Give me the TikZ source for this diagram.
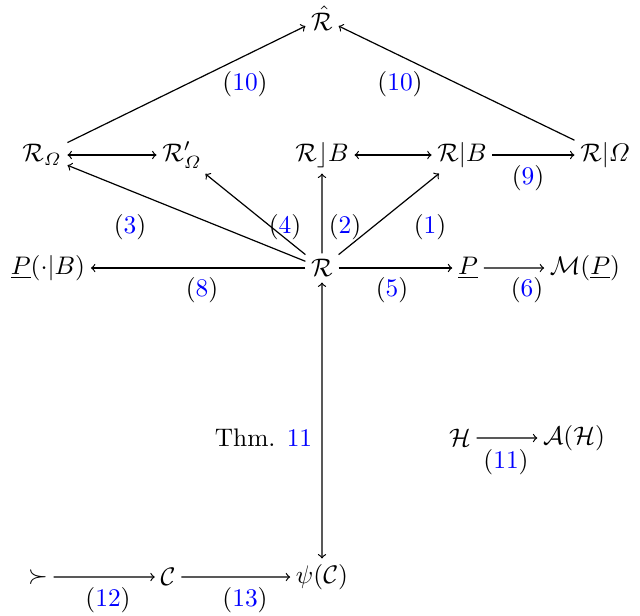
\documentclass[tikz,border=0pt]{standalone}
\usepackage{amsmath,amssymb}
\begin{document}
\begin{tikzpicture}[x=0.5pt,y=-0.5pt,line width=0.6pt,
  ar/.style={->},
  every node/.style={inner sep=2pt,scale=1.27}]
\useasboundingbox (0,0) rectangle (640,615);
\node (Rh) at (322,18) {$\hat{\mathcal R}$};
\node (RO) at (42,155) {$\mathcal R_\varOmega$};
\node (RO2) at (182,155) {$\mathcal R'_\varOmega$};
\node (RfB) at (322,155) {$\mathcal R\rfloor B$};
\node (RB) at (462,155) {$\mathcal R|B$};
\node (RvO) at (605,155) {$\mathcal R|\varOmega$};
\node (PB) at (48,268) {$\underline{P}(\cdot|B)$};
\node (R) at (322,268) {$\mathcal R$};
\node (P) at (468,268) {$\underline{P}$};
\node (MP) at (585,268) {$\mathcal M(\underline{P})$};
\node (H) at (460,438) {$\mathcal H$};
\node (AH) at (574,438) {$\mathcal A(\mathcal H)$};
\node (succ) at (38,577) {$\succ$};
\node (C) at (168,577) {$\mathcal C$};
\node (psi) at (322,577) {$\psi(\mathcal C)$};
\draw[ar] (RO) -- (Rh);
\draw[ar] (RvO) -- (Rh);
\draw[<->] (RO) -- (RO2);
\draw[<->] (RfB) -- (RB);
\draw[ar] (RB) -- (RvO);
\draw[ar] (R) -- (RO);
\draw[ar] (R) -- (RO2);
\draw[ar] (R) -- (RfB);
\draw[ar] (R) -- (RB);
\draw[ar] (R) -- (PB);
\draw[ar] (R) -- (P);
\draw[ar] (P) -- (MP);
\draw[<->] (R) -- (psi);
\draw[ar] (H) -- (AH);
\draw[ar] (succ) -- (C);
\draw[ar] (C) -- (psi);
\node at (245,84) {(\textcolor{blue}{10})};
\node at (400,84) {(\textcolor{blue}{10})};
\node at (130,227) {(\textcolor{blue}{3})};
\node at (285,227) {(\textcolor{blue}{4})};
\node at (345,227) {(\textcolor{blue}{2})};
\node at (430,227) {(\textcolor{blue}{1})};
\node at (528,178) {(\textcolor{blue}{9})};
\node at (202,290) {(\textcolor{blue}{8})};
\node at (392,290) {(\textcolor{blue}{5})};
\node at (527,290) {(\textcolor{blue}{6})};
\node[anchor=east] at (318,438) {Thm. \textcolor{blue}{11}};
\node at (506,462) {(\textcolor{blue}{11})};
\node at (108,600) {(\textcolor{blue}{12})};
\node at (245,600) {(\textcolor{blue}{13})};
\end{tikzpicture}
\end{document}
